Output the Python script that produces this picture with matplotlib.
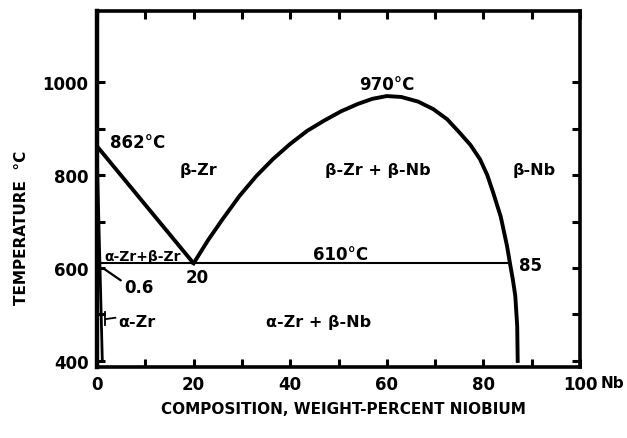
import matplotlib
matplotlib.use("Agg")
import matplotlib.pyplot as plt

# ---- data ----
transus_x = [0, 20]
transus_T = [862, 610]

dome_x = [20, 23, 26, 29.5, 33, 36.5, 40, 43.5, 47, 50.5, 54, 57, 60, 63, 66.5, 69.6, 72.5, 75, 77.3, 79.3, 80.8, 82, 83.6, 84.9, 85.5, 86.1, 86.6, 87, 87.1]
dome_T = [610, 660, 705, 755, 798, 835, 867, 895, 917, 937, 953, 964, 970, 968, 958, 942, 920, 892, 865, 834, 800, 763, 710, 647, 610, 575, 540, 475, 400]

eut_x = [0, 85.5]
eut_T = [610, 610]

alpha_x = [0, 0.6, 1.1]
alpha_T = [862, 610, 400]

xticks = list(range(0, 101, 10))
xticklabels = ['0', '', '20', '', '40', '', '60', '', '80', '', '100']
yticks = [400, 500, 600, 700, 800, 900, 1000]
yticklabels = ['400', '', '600', '', '800', '', '1000']

fig = plt.figure(figsize=(6.27, 4.39), dpi=100)
ax = fig.add_axes([97/627, 1-368/439, (580-97)/627, (368-12)/439])

k = 'black'
ax.plot(transus_x, transus_T, color=k, lw=2.8, solid_capstyle='butt')
ax.plot(dome_x, dome_T, color=k, lw=2.8, solid_joinstyle='round')
ax.plot(eut_x, eut_T, color=k, lw=1.5)
ax.plot(alpha_x, alpha_T, color=k, lw=2.0)

ax.set_xlim(0, 100)
ax.set_ylim(387, 1153)

for s in ax.spines.values():
    s.set_linewidth(2.6)
ax.spines['left'].set_linewidth(3.2)

ax.set_xticks(xticks)
ax.set_xticklabels(xticklabels)
ax.set_yticks(yticks)
ax.set_yticklabels(yticklabels)
ax.tick_params(direction='in', length=6, width=2.2, top=True, right=True,
               labelsize=12)
ax.tick_params(axis='x', pad=6)
ax.tick_params(axis='y', pad=6)
for lab in ax.get_xticklabels() + ax.get_yticklabels():
    lab.set_fontweight('bold')

# "Nb" after the 100 tick label
ax.annotate('Nb', xy=(100, 0), xycoords=ax.get_xaxis_transform(),
            xytext=(14.5, -6), textcoords='offset points',
            ha='left', va='top', fontsize=11, fontweight='bold')

fig.text(343/627, 1-410/439, 'COMPOSITION, WEIGHT-PERCENT NIOBIUM',
         ha='center', va='center', fontsize=11, fontweight='bold')
fig.text(22/627, 1-228/439, 'TEMPERATURE  °C', rotation=90,
         ha='center', va='center', fontsize=11, fontweight='bold')

fw = 'bold'
ax.text(2.6, 871, '862°C', ha='left', va='center', fontsize=12, fontweight=fw)
ax.text(21.1, 811, 'β-Zr', ha='center', va='center', fontsize=11.5, fontweight=fw)
ax.text(58.1, 811, 'β-Zr + β-Nb', ha='center', va='center', fontsize=11.5, fontweight=fw)
ax.text(90.5, 811, 'β-Nb', ha='center', va='center', fontsize=11.5, fontweight=fw)
ax.text(59.9, 996, '970°C', ha='center', va='center', fontsize=12, fontweight=fw)
ax.text(50.4, 630, '610°C', ha='center', va='center', fontsize=12, fontweight=fw)
ax.text(87.3, 606, '85', ha='left', va='center', fontsize=12, fontweight=fw)
ax.text(20.7, 581, '20', ha='center', va='center', fontsize=12, fontweight=fw)
ax.text(9.5, 626, 'α-Zr+β-Zr', ha='center', va='center', fontsize=10, fontweight=fw)
ax.text(5.6, 560, '0.6', ha='left', va='center', fontsize=12, fontweight=fw)
ax.annotate('', xy=(0.8, 603), xytext=(5.4, 570),
            arrowprops=dict(arrowstyle='-', lw=1.6, color=k))
ax.text(4.5, 485, 'α-Zr', ha='left', va='center', fontsize=11.5, fontweight=fw)
ax.plot([1.7, 1.7], [478, 506], color=k, lw=1.3)
ax.plot([1.7, 3.8], [490, 493], color=k, lw=1.3)
ax.text(45.9, 485, 'α-Zr + β-Nb', ha='center', va='center', fontsize=11.5, fontweight=fw)

fig.savefig('out.png', dpi=100)
